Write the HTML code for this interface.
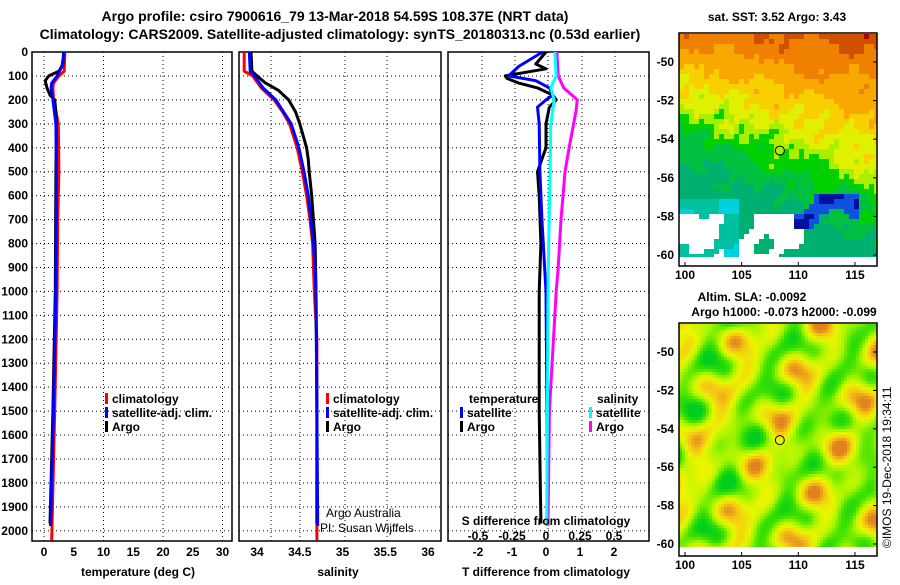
<!DOCTYPE html>
<html><head><meta charset="utf-8"><style>
body{margin:0;background:#fff}
svg text{font-family:"Liberation Sans",sans-serif;font-weight:bold;fill:#000}
</style></head><body>
<svg id="fig" width="900" height="580" viewBox="0 0 900 580" xmlns="http://www.w3.org/2000/svg">
<rect width="900" height="580" fill="#fff"/>
<text x="335" y="21" text-anchor="middle" font-size="14">Argo profile: csiro 7900616_79 13-Mar-2018 54.59S 108.37E (NRT data)</text>
<text x="340" y="39" text-anchor="middle" font-size="14">Climatology: CARS2009. Satellite-adjusted climatology: synTS_20180313.nc (0.53d earlier)</text>
<g id="panels"></g>
<g id="maps"></g>
<text transform="translate(891,548) rotate(-90)" font-size="12" style="font-weight:normal">©IMOS 19-Dec-2018 19:34:11</text>
</svg>
<script>
// ---- data ----
const depthTicks=[0,100,200,300,400,500,600,700,800,900,1000,1100,1200,1300,1400,1500,1600,1700,1800,1900,2000];
const tempTicks=[0,5,10,15,20,25,30];
const salTicks=[34,34.5,35,35.5,36];
const tdiffTicks=[-2,-1,0,1,2];
const sdiffTicks=[-0.5,-0.25,0,0.25,0.5];
const sdiffLabels=["-0.5","-0.25","0","0.25","0.5"];

const tClimDepth=[0,80,100,130,150,200,300,500,700,1000,1500,2040];
const tClimVal=[3.5,3.4,2.5,1.6,1.5,1.6,2.4,2.5,2.3,2.2,1.8,1.3];
const tSatDepth=[0,60,100,130,150,200,300,500,1000,1500,1980];
const tSatVal=[3.4,3.0,2.2,1.3,1.2,1.5,2.0,2.1,2.0,1.6,1.1];
const tArgoDepth=[0,50,80,100,120,150,180,200,250,300,500,1000,1500,1970];
const tArgoVal=[3.3,3.2,2.5,0.8,0.2,0.5,1.0,1.8,2.0,2.1,2.0,1.9,1.5,1.0];

const sClimDepth=[0,80,100,150,200,250,300,400,500,600,700,800,1000,1200,2040];
const sClimVal=[33.85,33.85,33.95,34.05,34.2,34.3,34.38,34.47,34.53,34.58,34.62,34.65,34.67,34.7,34.7];
const sSatDepth=[0,80,100,150,200,300,400,500,600,700,800,900,1000,1500,1980];
const sSatVal=[33.91,33.92,33.97,34.07,34.22,34.4,34.49,34.55,34.6,34.63,34.66,34.68,34.69,34.7,34.71];
const sArgoDepth=[0,80,100,130,160,200,250,300,400,450,500,600,700,800,1000,1500,1970];
const sArgoVal=[33.93,33.94,34.0,34.1,34.25,34.37,34.45,34.5,34.58,34.6,34.61,34.64,34.66,34.68,34.69,34.7,34.7];

const dTArgoDepth=[0,50,70,100,110,130,150,180,200,230,300,400,440,500,600,800,1000,1500,1970];
const dTArgoVal=[0,-0.3,0,-1.2,-1.15,-0.8,-0.25,0.2,0.3,0.1,0,0,-0.1,-0.25,-0.2,-0.15,-0.2,-0.2,-0.15];
const dTSatDepth=[0,60,100,120,150,180,200,230,300,500,700,1000,1500,1980];
const dTSatVal=[-0.1,-0.8,-1.1,-0.3,0.1,0.2,0,-0.25,-0.2,-0.18,-0.12,0,0.03,0.05];
const dSSatDepth=[0,100,150,200,300,500,800,1000,1500,1980];
const dSSatVal=[0.065,0.075,0.035,0.06,0.035,0.03,0.02,0.015,0.01,0.005];
const dSArgoDepth=[0,100,150,200,250,400,500,700,900,1000,1500,1980];
const dSArgoVal=[0.08,0.09,0.13,0.23,0.22,0.17,0.14,0.11,0.09,0.075,0.025,0.015];

const NS="http://www.w3.org/2000/svg";
function el(tag,attrs,parent,txt){const e=document.createElementNS(NS,tag);for(const k in attrs)e.setAttribute(k,attrs[k]);if(txt!==undefined)e.textContent=txt;parent.appendChild(e);return e;}
const panels=document.getElementById('panels');
const Y0=52, PXM=0.2394;
const yD=d=>Y0+d*PXM;
const PT=541;

const xTemp=t=>44+5.95*t;
const xSal=s=>257+85.5*(s-34);
const xTd=d=>546+34*d;
const xSd=d=>546+136*d;

function panel(name){
  const g=el('g',{},panels);
  
  
  return g;
}
function hgrid(g,x0,x1){
  depthTicks.forEach(d=>{const l=el('line',{x1:x0,x2:x1,y1:yD(d),y2:yD(d),stroke:'#000','stroke-width':1,'stroke-dasharray':'1,3'},g);
    });
}
function vgrid(g,xs){
  xs.forEach(x=>{const l=el('line',{x1:x,x2:x,y1:Y0,y2:PT,stroke:'#000','stroke-width':1,'stroke-dasharray':'1,3'},g);
    });
}
function frame(g,x0,x1){const r=el('rect',{x:x0,y:Y0,width:x1-x0,height:PT-Y0,fill:'none',stroke:'#000','stroke-width':1.5},g);
  }
function line(g,ds,vs,fx,color,name){
  const pts=ds.map((d,i)=>fx(vs[i]).toFixed(1)+','+yD(d).toFixed(1)).join(' ');
  const p=el('polyline',{points:pts,fill:'none',stroke:color,'stroke-width':3,'stroke-linejoin':'round'},g);
  
}
function xlabels(g,ticks,fx,labels,y){
  ticks.forEach((t,i)=>{const e=el('text',{x:fx(t),y:y,'text-anchor':'middle','font-size':12},g,labels?labels[i]:String(t));
    });
}
function legend(g,x,y,color,label){
  const r=el('rect',{x:x,y:y-10,width:3,height:11,fill:color},g);
  
  const t=el('text',{x:x+7,y:y,'font-size':12},g,label);
  
}
depthTicks.forEach(d=>{const e=el('text',{x:28,y:yD(d)+4,'text-anchor':'end','font-size':12},panels,String(d));
  });

// panel 1 temperature
let g=panel('temperature-panel');
hgrid(g,32,232); vgrid(g,[44,103.5,163,222.5]); frame(g,32,232);
line(g,tClimDepth,tClimVal,xTemp,'#ff0000','temp-climatology-line');
line(g,tArgoDepth,tArgoVal,xTemp,'#000','temp-argo-line');
line(g,tSatDepth,tSatVal,xTemp,'#0000ff','temp-satellite-line');
legend(g,105,403,'#f00','climatology');legend(g,105,417,'#00f','satellite-adj. clim.');legend(g,105,431,'#000','Argo');
xlabels(g,tempTicks,xTemp,null,556);
el('text',{x:138,y:576,'text-anchor':'middle','font-size':12,},g,'temperature (deg C)');

// panel 2 salinity
g=panel('salinity-panel');
hgrid(g,239,441); vgrid(g,[271,300,345,387]); frame(g,239,441);
line(g,sClimDepth,sClimVal,xSal,'#ff0000','sal-climatology-line');
line(g,sArgoDepth,sArgoVal,xSal,'#000','sal-argo-line');
line(g,sSatDepth,sSatVal,xSal,'#0000ff','sal-satellite-line');
legend(g,326,403,'#f00','climatology');legend(g,326,417,'#00f','satellite-adj. clim.');legend(g,326,431,'#000','Argo');
el('text',{x:326,y:517,'font-size':12,style:'font-weight:normal',},g,'Argo Australia');
el('text',{x:320,y:532,'font-size':12,style:'font-weight:normal',},g,'PI: Susan Wijffels');
xlabels(g,salTicks,xSal,null,556);
el('text',{x:338,y:576,'text-anchor':'middle','font-size':12,},g,'salinity');

// panel 3 differences
g=panel('difference-panel');
hgrid(g,448,649); vgrid(g,[482,515,548,582,615]); frame(g,448,649);
line(g,dTArgoDepth,dTArgoVal,xTd,'#000','tdiff-argo-line');
line(g,dTSatDepth,dTSatVal,xTd,'#0000ff','tdiff-satellite-line');
line(g,dSArgoDepth,dSArgoVal,xSd,'#ff00ff','sdiff-argo-line');
line(g,dSSatDepth,dSSatVal,xSd,'#00ffff','sdiff-satellite-line');
el('text',{x:469,y:403,'font-size':12,},g,'temperature');
el('text',{x:597,y:403,'font-size':12,},g,'salinity');
legend(g,460,417,'#00f','satellite');legend(g,460,431,'#000','Argo');
legend(g,589,417,'#0ff','satellite');legend(g,589,431,'#f0f','Argo');
el('text',{x:546,y:525,'text-anchor':'middle','font-size':12,},g,'S difference from climatology');
xlabels(g,sdiffTicks,xSd,sdiffLabels,540);
xlabels(g,tdiffTicks,xTd,null,556);
el('text',{x:546,y:576,'text-anchor':'middle','font-size':12,},g,'T difference from climatology');

// ---- maps ----
const maps=document.getElementById('maps');
const lonTicks=[100,105,110,115];
const latTicks=[-50,-52,-54,-56,-58,-60];
const floatLon=108.37, floatLat=-54.59;
const MX0=679,MX1=877;
const xLon=l=>685+(l-100)*11.33;
function nz(a,b,s){return Math.sin(a*0.37+s)*Math.cos(b*0.53+s*1.7)+0.5*Math.sin(a*0.91+b*0.67+s*2.3);}
function hexmix(stops,t){
  t=Math.max(0,Math.min(1,t));const n=stops.length-1;const k=Math.min(n-1,Math.floor(t*n));const f=t*n-k;
  const a=stops[k],b=stops[k+1];
  const c=[0,1,2].map(i=>Math.round(a[i]+(b[i]-a[i])*f));
  return 'rgb('+c.join(',')+')';
}
function sstColor(fx,fy,i,j){
  const n=nz(i,j,1.3)*0.05+nz(i*2.3,j*1.9,4.1)*0.04;
  const t=fy+0.17-0.4*fx+n-0.15*Math.pow(1-fy,4)+0.25*fx*Math.pow(1-fy,2);
  if(fy>0.66){
    const w=nz(i*0.8,j*0.9,7.7);
    if(fx<0.9&&fx>0.55&&fy>0.7&&fy<0.86&&w>-0.1)return w>0.6?'#0010a0':'#1050e0';
    if(fx<0.62&&fy>0.79&&w>-0.2&&!(fx>0.2&&fx<0.3))return '#ffffff';
    if(fx<0.3&&fy>0.72)return w>0.2?'#00d0e0':'#00c0a0';
  }
  if(t<-0.2)return '#b00000';
  if(t<-0.05)return '#d05000';
  if(t<0.1)return '#f08000';
  if(t<0.22)return '#f8a800';
  if(t<0.33)return '#f8d000';
  if(t<0.43)return '#e0f000';
  if(t<0.5)return '#a8f000';
  if(t<0.58)return '#00d000';
  if(t<0.7)return '#00c040';
  return '#00b070';
}
const slaStops=[[0,205,30],[60,225,0],[170,245,0],[235,245,0],[245,200,20],[225,130,30]];
function slaColor(i,j){
  const x=i*3,y=j*3;
  const n=0.45*Math.sin(x*0.09+y*0.04+1)+0.35*Math.sin(-x*0.05+y*0.11+2.3)+0.3*Math.cos(x*0.13-y*0.07+0.7)+0.25*Math.sin(x*0.03+y*0.15+4)+0.2*Math.cos(x*0.17+y*0.12+1.9);
  return hexmix(slaStops,(n+1.0)/2.2);
}
function drawMap(name,y0,y1,yb,yLat,cs,colorFn){
  const g=el('g',{},maps);
  
  
  const nx=Math.ceil((MX1-MX0)/cs);
  for(let j=0;j*cs<y1-y0;j++)for(let i=0;i<nx;i++){
    el('rect',{x:MX0+i*cs,y:y0+j*cs,width:Math.min(cs,MX1-MX0-i*cs),height:Math.min(cs,y1-y0-j*cs),fill:colorFn(i/nx,(j*cs)/(y1-y0),i,j)},g);
  }
  const fr=el('rect',{x:MX0,y:y0-1,width:MX1-MX0,height:yb-y0+1,fill:'none',stroke:'#000','stroke-width':1.5},g);
  
  latTicks.forEach(l=>{const t=el('text',{x:MX0-5,y:yLat(l)+4,'text-anchor':'end','font-size':12},g,String(l));
    
    el('line',{x1:MX1-4,x2:MX1,y1:yLat(l),y2:yLat(l),stroke:'#000'},g);});
  lonTicks.forEach(l=>{const t=el('text',{x:xLon(l),y:yb+13,'text-anchor':'middle','font-size':12},g,String(l));
    
    el('line',{x1:xLon(l),x2:xLon(l),y1:yb-4,y2:yb,stroke:'#000'},g);});
  const c=el('circle',{cx:xLon(floatLon),cy:yLat(floatLat),r:4.5,fill:'none',stroke:'#000','stroke-width':1},g);
  
}
drawMap('sst-map',34,257,266,l=>62+(-50-l)*19.3,5,(fx,fy,i,j)=>sstColor(fx,fy,i,j));
drawMap('sla-map',324,547,556,l=>352+(-50-l)*19.2,3,(fx,fy,i,j)=>slaColor(i,j));
el('text',{x:777,y:21,'text-anchor':'middle','font-size':12,},maps,'sat. SST: 3.52 Argo: 3.43');
el('text',{x:752,y:301,'text-anchor':'middle','font-size':12,},maps,'Altim. SLA: -0.0092');
el('text',{x:784,y:316,'text-anchor':'middle','font-size':12,},maps,'Argo h1000: -0.073 h2000: -0.099');
</script>
</body></html>
